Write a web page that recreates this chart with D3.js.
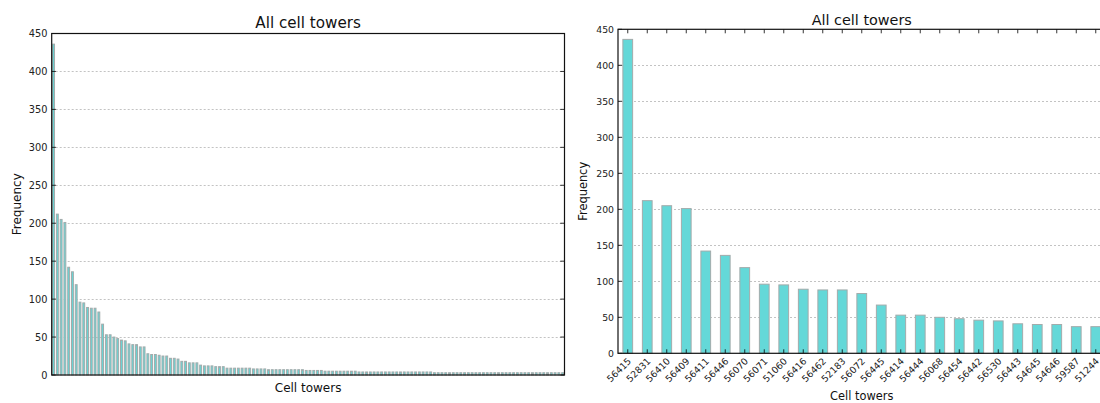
<!DOCTYPE html>
<html>
<head>
<meta charset="utf-8">
<script src="https://cdn.jsdelivr.net/npm/d3@7"></script>
<style>
  html, body { margin: 0; padding: 0; background: #fff; }
  svg { display: block; font-family: "DejaVu Sans", sans-serif; }
</style>
</head>
<body>
<svg id="chart" width="1100" height="403"></svg>
<script>
// Top 25 towers by number of records
const topTowers = ["56415", "52831", "56410", "56409", "56411", "56446", "56070", "56071", "51060", "56416",
  "56462", "52183", "56072", "56445", "56414", "56444", "56068", "56454", "56442", "56530",
  "56443", "54645", "54646", "59587", "51244"];
const topCounts = [436, 212, 205, 201, 142, 136, 119, 96, 95, 89, 88, 88, 83, 67, 53, 53, 50, 48, 46, 45,
  41, 40, 40, 37, 37];

// Record counts for every tower, sorted descending
const allCounts = [436, 212, 205, 201, 142, 136, 119, 96, 95, 89, 88, 88, 83, 67, 53, 53, 50, 48, 46, 45,
  41, 40, 40, 37, 37, 28, 27, 27, 26, 25, 25, 22, 22, 21, 18, 18, 16, 16, 16, 13,
  12, 12, 12, 11, 11, 11, 9, 9, 9, 9, 9, 9, 9, 8, 8, 8, 8, 7, 7, 7,
  7, 7, 7, 7, 7, 7, 7, 6, 6, 6, 6, 6, 5, 5, 5, 5, 5, 5, 5, 5,
  5, 4, 4, 4, 4, 4, 4, 4, 4, 4, 4, 4, 4, 4, 4, 4, 4, 4, 4, 4,
  4, 3, 3, 3, 3, 3, 3, 3, 3, 3, 3, 3, 3, 3, 3, 3, 3, 3, 3, 3,
  3, 3, 3, 3, 3, 3, 3, 3, 3, 3, 3, 3, 3, 3, 3, 3];

const yTicks = [0, 50, 100, 150, 200, 250, 300, 350, 400, 450];
const titleText = "All cell towers";
const xLabelText = "Cell towers";
const yLabelText = "Frequency";

const svg = d3.select("#chart");
const BAR_FILL = "#64d8d8";
const BAR_EDGE = "#a3abab";

function drawPanel(opts) {
  const { left, right, top, bottom, keys, values, s, showXTicks } = opts;
  const g = svg.append("g");

  const x = d3.scaleBand().domain(keys).range([left, right]).paddingInner(0.5).paddingOuter(0.25);
  const y = d3.scaleLinear().domain([0, 450]).range([bottom, top]);

  // horizontal grid
  g.append("g").selectAll("line").data(yTicks.filter(t => t > 0 && t < 450)).join("line")
    .attr("x1", left).attr("x2", right)
    .attr("y1", d => Math.round(y(d)) + 0.5).attr("y2", d => Math.round(y(d)) + 0.5)
    .attr("stroke", "#b4b4b4").attr("stroke-width", 0.8).attr("stroke-dasharray", "2,2");

  // bars
  g.append("g").selectAll("rect").data(keys).join("rect")
    .attr("x", d => x(d))
    .attr("width", x.bandwidth())
    .attr("y", (d, i) => y(values[i]))
    .attr("height", (d, i) => y(0) - y(values[i]))
    .attr("fill", BAR_FILL)
    .attr("stroke", BAR_EDGE)
    .attr("stroke-width", 1);

  // y tick marks on both sides, pointing inward
  const tl = 4 * s;
  const ticks = g.append("g").attr("stroke", "#000").attr("stroke-width", 0.8);
  yTicks.forEach(t => {
    const yy = y(t);
    ticks.append("line").attr("x1", left).attr("x2", left + tl).attr("y1", yy).attr("y2", yy);
    ticks.append("line").attr("x1", right - tl).attr("x2", right).attr("y1", yy).attr("y2", yy);
  });
  if (showXTicks) {
    keys.forEach(k => {
      const cx = x(k) + x.bandwidth() / 2;
      ticks.append("line").attr("x1", cx).attr("x2", cx).attr("y1", top).attr("y2", top + tl);
      ticks.append("line").attr("x1", cx).attr("x2", cx).attr("y1", bottom).attr("y2", bottom - tl);
    });
  }

  // frame
  g.append("rect").attr("x", left).attr("y", top)
    .attr("width", right - left).attr("height", bottom - top)
    .attr("fill", "none").attr("stroke", "#111").attr("stroke-width", 1.2);

  // y tick labels
  const fs = 9.3 * s;
  g.append("g").selectAll("text").data(yTicks).join("text")
    .attr("x", left - 4 * s).attr("y", d => y(d)).attr("dy", "0.36em")
    .attr("text-anchor", "end").attr("font-size", fs).attr("fill", "#222")
    .text(d => d);

  // x tick labels (rotated)
  if (showXTicks) {
    g.append("g").selectAll("text").data(keys).join("text")
      .attr("transform", k => `translate(${x(k) + x.bandwidth() / 2 + 4},${bottom + 8.5}) rotate(-45)`)
      .attr("text-anchor", "end").attr("font-size", fs).attr("fill", "#222")
      .text(k => k);
  }

  // title and axis labels
  const cxm = (left + right) / 2;
  g.append("text").attr("x", cxm).attr("y", opts.titleY)
    .attr("text-anchor", "middle").attr("font-size", 14.4 * s).attr("fill", "#111")
    .text(titleText);
  g.append("text").attr("x", cxm).attr("y", opts.xLabelY)
    .attr("text-anchor", "middle").attr("font-size", 11.4 * s).attr("fill", "#111")
    .text(xLabelText);
  g.append("text")
    .attr("transform", `translate(${opts.yLabelX},${(top + bottom) / 2}) rotate(-90)`)
    .attr("text-anchor", "middle").attr("font-size", 11.4 * s).attr("fill", "#111")
    .text(yLabelText);
}

// Left panel: every tower
drawPanel({
  left: 51.7, right: 564.5, top: 33.5, bottom: 375,
  keys: d3.range(allCounts.length), values: allCounts, s: 1.054, showXTicks: false,
  titleY: 27.5, xLabelY: 391.5, yLabelX: 20.5
});

// Right panel: top 25 towers
drawPanel({
  left: 618, right: 1105.5, top: 29.3, bottom: 353.3,
  keys: topTowers, values: topCounts, s: 1, showXTicks: true,
  titleY: 25, xLabelY: 400, yLabelX: 586.5
});
</script>
</body>
</html>
